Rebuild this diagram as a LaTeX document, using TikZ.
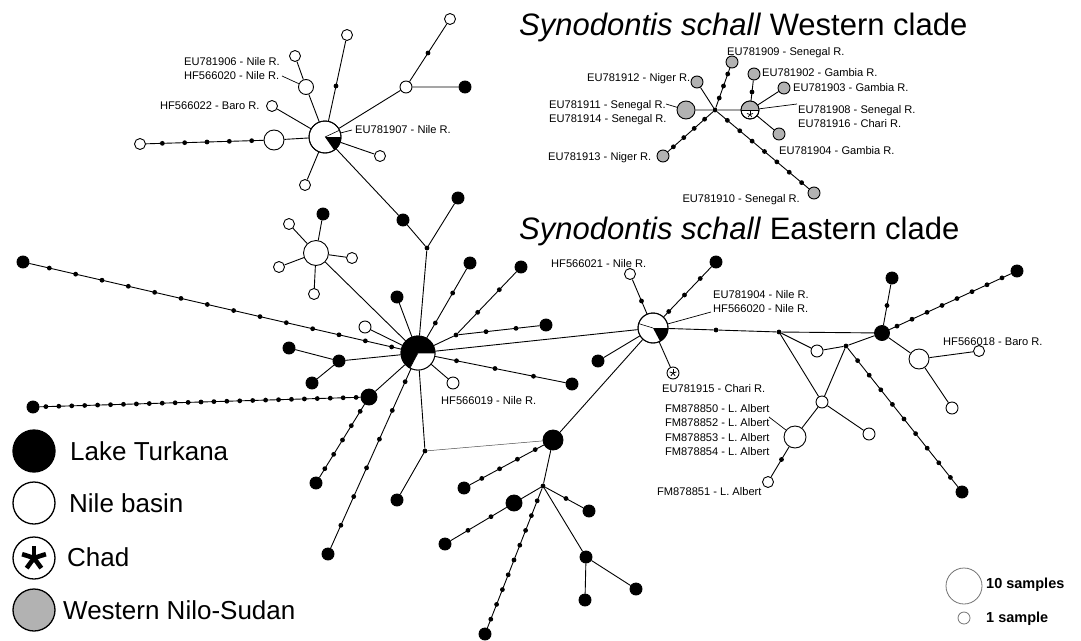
\documentclass[tikz,border=0pt]{standalone}
\usepackage{fontspec}
\setmainfont{Liberation Sans}
\usetikzlibrary{calc,backgrounds}
\newcommand\hapchain[4]{%
  \foreach \i in {1,...,#3}{%
    \pgfmathsetmacro\hpt{\i/(#3+1)}%
    \node[dot] (#4\i) at ($(#1)!\hpt!(#2)$) {};}%
  \begin{pgfonlayer}{background}\draw[ln] (#1) -- (#2);\end{pgfonlayer}}
\newcommand\hapstar[3]{%
  \foreach \ang in {-90,-18,-162,54,126}{\draw[line width=#3,line cap=butt] (#1) -- ++(\ang:#2);}}
\begin{document}
\begin{tikzpicture}[x=1pt,y=-1pt,
  ln/.style={line width=0.9pt},
  dot/.style={circle,fill=black,inner sep=0pt,minimum size=4.8pt},
  bk/.style={circle,draw,fill=black,line width=0.9pt,inner sep=0pt,minimum size=12pt},
  wh/.style={circle,draw,fill=white,line width=0.9pt,inner sep=0pt,minimum size=11pt},
  gr/.style={circle,draw,fill=gray!60,line width=0.9pt,inner sep=0pt,minimum size=12pt},
  lab/.style={font=\fontsize{11.1}{13}\selectfont,inner sep=0pt,anchor=base west},
  title/.style={font=\fontsize{31}{37}\selectfont,inner sep=0pt,anchor=base west},
  legtext/.style={font=\fontsize{26}{30}\selectfont,inner sep=0pt,anchor=base west},
  sizetext/.style={font=\bfseries\fontsize{14.5}{17}\selectfont,inner sep=0pt,anchor=base west},
  leader/.style={line width=0.7pt}]
\useasboundingbox (0,0) rectangle (1081,640);

% ---------- top-left cluster ----------
\node[wh,minimum size=32pt] (A) at (325,137) {};
\node[wh,minimum size=15pt] (a1) at (306,87) {};
\node[wh] (a2) at (295,56) {};
\node[wh] (a3) at (347,35) {};
\node[wh] (a4) at (272,106) {};
\node[wh,minimum size=20pt] (a5) at (274,140) {};
\node[wh] (a6) at (140,144) {};
\node[wh] (a7) at (305,185) {};
\node[wh] (a8) at (380,156) {};
\node[wh,minimum size=12pt] (a9) at (406,87) {};
\node[wh] (a10) at (450,19) {};
\node[bk] (a11) at (465,87) {};
\node[bk] (b1) at (403,220) {};
\node[bk] (b2) at (458,198) {};
\node[dot] (bj) at (427,248) {};
\fill (A.center) -- ++(16,0) arc[start angle=0,end angle=55,radius=16] -- cycle;
\draw[line width=0.6pt] (A.center) -- ++(-25:16);
\draw[ln] (A.center) circle[radius=16];
\hapchain{A}{a3}{1}{ad}
\hapchain{a5}{a6}{5}{ae}
\hapchain{a9}{a10}{1}{af}
\begin{pgfonlayer}{background}
\draw[ln] (A)--(a1) (a1)--(a2) (A)--(a4) (A)--(a5) (A)--(a7) (A)--(a8) (A)--(a9)
  (a9)--(a11) (A)--(b1) (b1)--(bj) (b2)--(bj);
\end{pgfonlayer}

% ---------- central cluster ----------
\node[bk,minimum size=34pt] (C) at (418,353) {};
\fill[white] (C.center) -- ++(17,0) arc[start angle=0,end angle=118,radius=17] -- cycle;
\draw[line width=0.6pt] ($(C.center)+(17,0)$) -- (C.center) -- ++(118:17);
\draw[ln] (C.center) circle[radius=17];
\node[bk] (c1) at (397,297) {};
\node[bk] (c2) at (470,263) {};
\node[dot] (cj) at (456,335) {};
\node[bk] (c3) at (521,267) {};
\node[bk] (c4) at (546,325) {};
\node[bk] (c5) at (572,384) {};
\node[wh,minimum size=12pt] (c6) at (453,383) {};
\node[wh,minimum size=12pt] (c7) at (365,327) {};
\node[bk] (c8) at (23,262) {};
\node[bk] (c9) at (33,407) {};
\node[bk,minimum size=16pt] (c10) at (369,397) {};
\node[bk] (c11) at (289,348) {};
\node[bk] (c12) at (339,361) {};
\node[bk] (c13) at (312,383) {};
\node[wh,minimum size=25pt] (s0) at (316,253) {};
\node[wh] (s1) at (289,224) {};
\node[wh] (s2) at (352,258) {};
\node[wh] (s3) at (279,267) {};
\node[wh] (s4) at (314,294) {};
\node[bk] (s5) at (323,214) {};
\node[bk] (c14) at (328,554) {};
\node[bk] (c15) at (316,483) {};
\node[dot] (cj2) at (425,451) {};
\node[bk] (c16) at (397,500) {};
\hapchain{C}{c2}{2}{cb}
\hapchain{cj}{c3}{2}{cc}
\hapchain{cj}{c4}{2}{cd}
\hapchain{C}{c5}{3}{ce}
\hapchain{c8}{C}{14}{cf}
\hapchain{c9}{c10}{25}{cg}
\hapchain{C}{c14}{6}{ch}
\hapchain{c10}{c15}{5}{ci}
\begin{pgfonlayer}{background}
\draw[ln] (bj)--(C) (C)--(c1) (C)--(cj) (C)--(c6) (C)--(c7) (c10)--(C)
  (c11)--(c12) (c13)--(c12) (c12)--(C) (s0)--(C) (s0)--(s1) (s0)--(s2) (s0)--(s3)
  (s0)--(s4) (s0)--(s5) (C)--(cj2) (cj2)--(c16);
\end{pgfonlayer}

% ---------- lower cluster ----------
\node[bk,minimum size=20pt] (D) at (553,440) {};
\node[bk] (d1) at (464,488) {};
\node[dot] (dj) at (543,486) {};
\node[bk,minimum size=16pt] (d2) at (514,503) {};
\node[bk] (d3) at (445,544) {};
\node[bk] (d4) at (485,634) {};
\node[bk] (d5) at (589,511) {};
\node[bk] (d6) at (586,557) {};
\node[bk] (d7) at (585,600) {};
\node[bk] (d8) at (636,589) {};
\hapchain{D}{d1}{4}{da}
\hapchain{d2}{d3}{2}{db}
\hapchain{dj}{d4}{9}{dc}
\hapchain{dj}{d5}{1}{dd}
\begin{pgfonlayer}{background}
\draw[line width=0.5pt,black!70] (cj2)--(D);
\draw[ln] (D)--(dj) (dj)--(d2) (dj)--(d6) (d6)--(d7) (d6)--(d8);
\end{pgfonlayer}

% ---------- eastern cluster ----------
\node[wh,minimum size=30pt] (E) at (653,328) {};
\fill (E.center) -- ++(15,0) arc[start angle=0,end angle=62,radius=15] -- cycle;
\draw[line width=0.6pt] (E.center) -- ++(-163:15);
\draw[ln] (E.center) circle[radius=15];
\node[wh] (e1) at (630,274) {};
\node[bk] (e2) at (716,262) {};
\node[bk] (e3) at (598,361) {};
\node[wh,minimum size=12pt] (e4) at (673,373) {};
\hapstar{e4.center}{3.6}{0.8pt}
\node[dot] (ed) at (716,330) {};
\node[dot] (J1) at (779,332) {};
\node[bk,minimum size=15pt] (H) at (882,333) {};
\node[wh,minimum size=12pt] (e5) at (817,351) {};
\node[dot] (J2) at (846,346) {};
\node[wh,minimum size=12pt] (e6) at (822,402) {};
\node[bk] (e7) at (962,492) {};
\node[wh,minimum size=12pt] (e8) at (869,434) {};
\node[wh,minimum size=22pt] (e9) at (795,437) {};
\node[wh] (e10) at (768,482) {};
\node[bk] (e11) at (892,278) {};
\node[bk] (e12) at (1017,271) {};
\node[wh,minimum size=20pt] (e13) at (919,359) {};
\node[wh] (e14) at (979,351) {};
\node[wh,minimum size=12pt] (e15) at (952,408) {};
\hapchain{E}{e1}{1}{ea}
\hapchain{E}{e2}{3}{eb}
\hapchain{J2}{e7}{9}{ec}
\hapchain{e9}{e10}{1}{ee}
\hapchain{H}{e11}{1}{ef}
\hapchain{H}{e12}{8}{eg}
\begin{pgfonlayer}{background}
\draw[ln] (C)--(E) (D)--(E) (E)--(e3) (E)--(e4) (E)--(ed) (ed)--(J1) (J1)--(H)
  (J1)--(e5) (e5)--(J2) (J2)--(H) (J1)--(e6) (J2)--(e6) (e6)--(e8) (e6)--(e9)
  (H)--(e13) (e13)--(e14) (e13)--(e15);
\end{pgfonlayer}

% ---------- western clade ----------
\node[dot] (W) at (715,110) {};
\node[gr,minimum size=18pt] (w1) at (686,110) {};
\node[gr] (w2) at (697,82) {};
\node[gr] (w3) at (732,62) {};
\node[gr] (w4) at (663,156) {};
\node[gr] (w5) at (814,193) {};
\node[wh,minimum size=18pt] (G) at (750,110) {};
\fill[gray!60] (G.center) -- ++(9,0) arc[start angle=0,end angle=-180,radius=9] -- cycle;
\draw[line width=0.6pt] ($(G.center)+(-9,0)$) -- ++(18,0);
\draw[ln] (G.center) circle[radius=9];
\hapstar{$(G.center)+(0,4.5)$}{3.2}{0.7pt}
\node[gr] (w6) at (754,74) {};
\node[gr] (w7) at (784,88) {};
\node[gr] (w8) at (779,134) {};
\hapchain{W}{w3}{3}{wa}
\hapchain{W}{w4}{4}{wb}
\hapchain{W}{w5}{7}{wc}
\hapchain{G}{w6}{1}{wd}
\begin{pgfonlayer}{background}
\draw[ln] (W)--(w1) (W)--(w2) (W)--(G) (G)--(w7) (G)--(w8);
\end{pgfonlayer}

% ---------- titles ----------
\node[title] (T1) at (519,35) {\textit{Synodontis schall} Western clade};
\node[title] (T2) at (519,239) {\textit{Synodontis schall} Eastern clade};

% ---------- labels ----------
\node[lab] (t1) at (184,65) {EU781906 - Nile R.};
\node[lab] (t2) at (184,79) {HF566020 - Nile R.};
\node[lab] (t3) at (160,109) {HF566022 - Baro R.};
\node[lab] (t4) at (355,133) {EU781907 - Nile R.};
\node[lab] (t5) at (587,81) {EU781912 - Niger R.};
\node[lab] (t6) at (549,108) {EU781911 - Senegal R.};
\node[lab] (t7) at (549,122) {EU781914 - Senegal R.};
\node[lab] (t8) at (548,160) {EU781913 - Niger R.};
\node[lab] (t9) at (727,55) {EU781909 - Senegal R.};
\node[lab] (t10) at (762,76) {EU781902 - Gambia R.};
\node[lab] (t11) at (793,91) {EU781903 - Gambia R.};
\node[lab] (t12) at (798,113) {EU781908 - Senegal R.};
\node[lab] (t13) at (798,127) {EU781916 - Chari R.};
\node[lab] (t14) at (779,154) {EU781904 - Gambia R.};
\node[lab,anchor=base east] (t15) at (800,202) {EU781910 - Senegal R.};
\node[lab] (t16) at (441,404) {HF566019 - Nile R.};
\node[lab] (t17) at (551,267) {HF566021 - Nile R.};
\node[lab] (t18) at (713,298) {EU781904 - Nile R.};
\node[lab] (t19) at (713,312) {HF566020 - Nile R.};
\node[lab] (t20) at (662,392) {EU781915 - Chari R.};
\node[lab] (t21) at (665,412) {FM878850 - L. Albert};
\node[lab] (t22) at (665,426) {FM878852 - L. Albert};
\node[lab] (t23) at (665,441) {FM878853 - L. Albert};
\node[lab] (t24) at (665,455) {FM878854 - L. Albert};
\node[lab] (t25) at (657,495) {FM878851 - L. Albert};
\node[lab] (t26) at (943,345) {HF566018 - Baro R.};

% leaders
\coordinate (k1) at (282,76);
\coordinate (k2) at (352,130);
\coordinate (k3) at (666,104);
\coordinate (k4) at (797,104);
\coordinate (k5) at (711,312);
\coordinate (k6) at (769,417);
\begin{pgfonlayer}{background}
\draw[leader] (k1)--(a1) (A)--(k2) (k3)--(w1) (G)--(k4) (E)--(k5) (k6)--(e9);
\end{pgfonlayer}

% ---------- legend ----------
\node[circle,fill=black,draw,line width=1.3pt,minimum size=42pt] (L1) at (34,451) {};
\node[circle,fill=white,draw,line width=1.3pt,minimum size=42pt] (L2) at (34,503) {};
\node[circle,fill=white,draw,line width=1.3pt,minimum size=42pt] (L3) at (34,558) {};
\hapstar{L3.center}{12.5}{4.6pt}
\node[circle,fill=gray!60,draw,line width=1.3pt,minimum size=42pt] (L4) at (34,610) {};
\node[legtext] (LT1) at (70,460) {Lake Turkana};
\node[legtext] (LT2) at (69,512) {Nile basin};
\node[legtext] (LT3) at (67,566) {Chad};
\node[legtext] (LT4) at (63,619) {Western Nilo-Sudan};

\node[circle,draw=black!55,line width=0.8pt,minimum size=36pt] (S1) at (964,586) {};
\node[circle,draw=black!55,line width=0.8pt,minimum size=12pt] (S2) at (964,618) {};
\node[sizetext] (ST1) at (986,588) {10 samples};
\node[sizetext] (ST2) at (986,622) {1 sample};
\end{tikzpicture}
\end{document}
